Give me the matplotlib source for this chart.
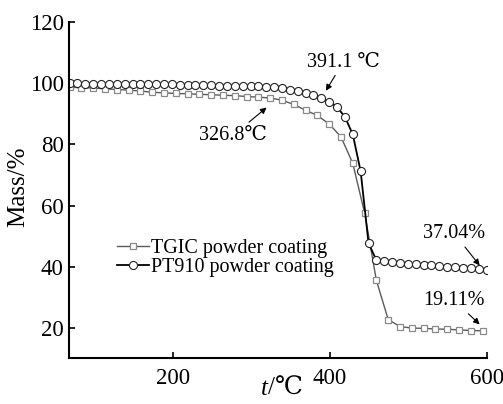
import matplotlib
matplotlib.use('Agg')
import matplotlib.pyplot as plt

plt.rcParams['font.family'] = ['Liberation Serif', 'DejaVu Serif', 'Noto Sans CJK SC']

# TGIC powder coating: marker every 15 C
tgic_t = [69, 84, 99, 114, 129, 144, 159, 174, 189, 204, 219, 234, 249, 264, 279,
          294, 309, 324, 339, 354, 369, 384, 399, 414, 429, 444, 459, 474, 489,
          504, 519, 534, 549, 564, 579, 594]
tgic_mass = [98.7, 98.6, 98.5, 98.2, 98.0, 97.8, 97.5, 97.1, 96.9, 96.7, 96.6, 96.4,
             96.3, 96.1, 96.0, 95.7, 95.5, 95.2, 94.5, 93.1, 91.2, 89.5, 86.7, 82.5,
             73.8, 57.6, 35.5, 22.7, 20.4, 19.9, 19.8, 19.6, 19.5, 19.3, 19.1, 19.0]

# PT910 powder coating: marker every 10 C
pt_t = list(range(69, 600, 10))
pt_mass = [100.0, 100.0, 99.9, 99.9, 99.9, 99.8, 99.8, 99.8, 99.8, 99.8, 99.7, 99.7,
           99.7, 99.7, 99.6, 99.6, 99.4, 99.4, 99.4, 99.3, 99.3, 99.2, 99.1, 99.1,
           99.0, 98.9, 98.7, 98.4, 98.0, 97.6, 97.0, 96.2, 95.1, 94.0, 92.3, 89.0,
           83.3, 71.2, 47.7, 42.1, 41.7, 41.4, 41.2, 41.0, 40.8, 40.7, 40.4, 40.2,
           40.0, 39.9, 39.7, 39.6, 39.3, 39.0]

# annotations: text, text position, arrow tip
notes = [('391.1 ℃', (417, 107.0), (394.8, 97.6)),
         ('326.8℃', (277, 83.0), (319.4, 92.1)),
         ('37.04%', (558, 50.8), (590.3, 40.4)),
         ('19.11%', (558, 28.9), (590.3, 21.1))]

fig = plt.figure(figsize=(5.03, 4.04), dpi=100)
ax = fig.add_axes([69.3 / 503, 1 - 358.3 / 404, (487.3 - 69.3) / 503, (358.3 - 22.3) / 404])

ax.plot(tgic_t, tgic_mass, color='#5a5a5a', lw=1.0, marker='s', ms=4.5,
        mfc='white', mec='#8a8a8a', mew=0.9, label='TGIC powder coating')
ax.plot(pt_t, pt_mass, color='black', lw=1.3, marker='o', ms=5.8,
        mfc='white', mec='#222222', mew=0.8, label='PT910 powder coating')

ax.set_xlim(68.6, 600)
ax.set_ylim(10, 120)
ax.set_xticks([200, 400, 600])
ax.set_yticks([20, 40, 60, 80, 100, 120])
ax.spines['top'].set_visible(False)
ax.spines['right'].set_visible(False)
for s in ['left', 'bottom']:
    ax.spines[s].set_linewidth(1.5)
ax.tick_params(axis='both', direction='in', length=4, width=1.2, labelsize=16.5)
ax.tick_params(axis='x', pad=7)
ax.tick_params(axis='y', pad=4)

ax.set_ylabel('Mass/%', fontsize=18)
ax.yaxis.set_label_coords(-0.095, 0.51)
ax.text(0.475, -0.09, 't', style='italic', fontsize=18, ha='right', va='center',
        transform=ax.transAxes)
ax.text(0.475, -0.09, '/℃', fontsize=18, ha='left', va='center',
        transform=ax.transAxes)

for txt, pos, tip in notes:
    ax.annotate(txt, xy=tip, xytext=pos, fontsize=14.5, ha='center', va='center',
                arrowprops=dict(arrowstyle='-|>', color='black', lw=0.8,
                                mutation_scale=9, shrinkA=1, shrinkB=0))

ax.legend(loc='upper left', bbox_to_anchor=(117 / 503, 1 - 239 / 404),
          bbox_transform=fig.transFigure, frameon=False, fontsize=14.5,
          handlelength=1.6, handletextpad=0.1, labelspacing=0.0,
          borderpad=0, borderaxespad=0)

plt.savefig('out.png', dpi=100)
